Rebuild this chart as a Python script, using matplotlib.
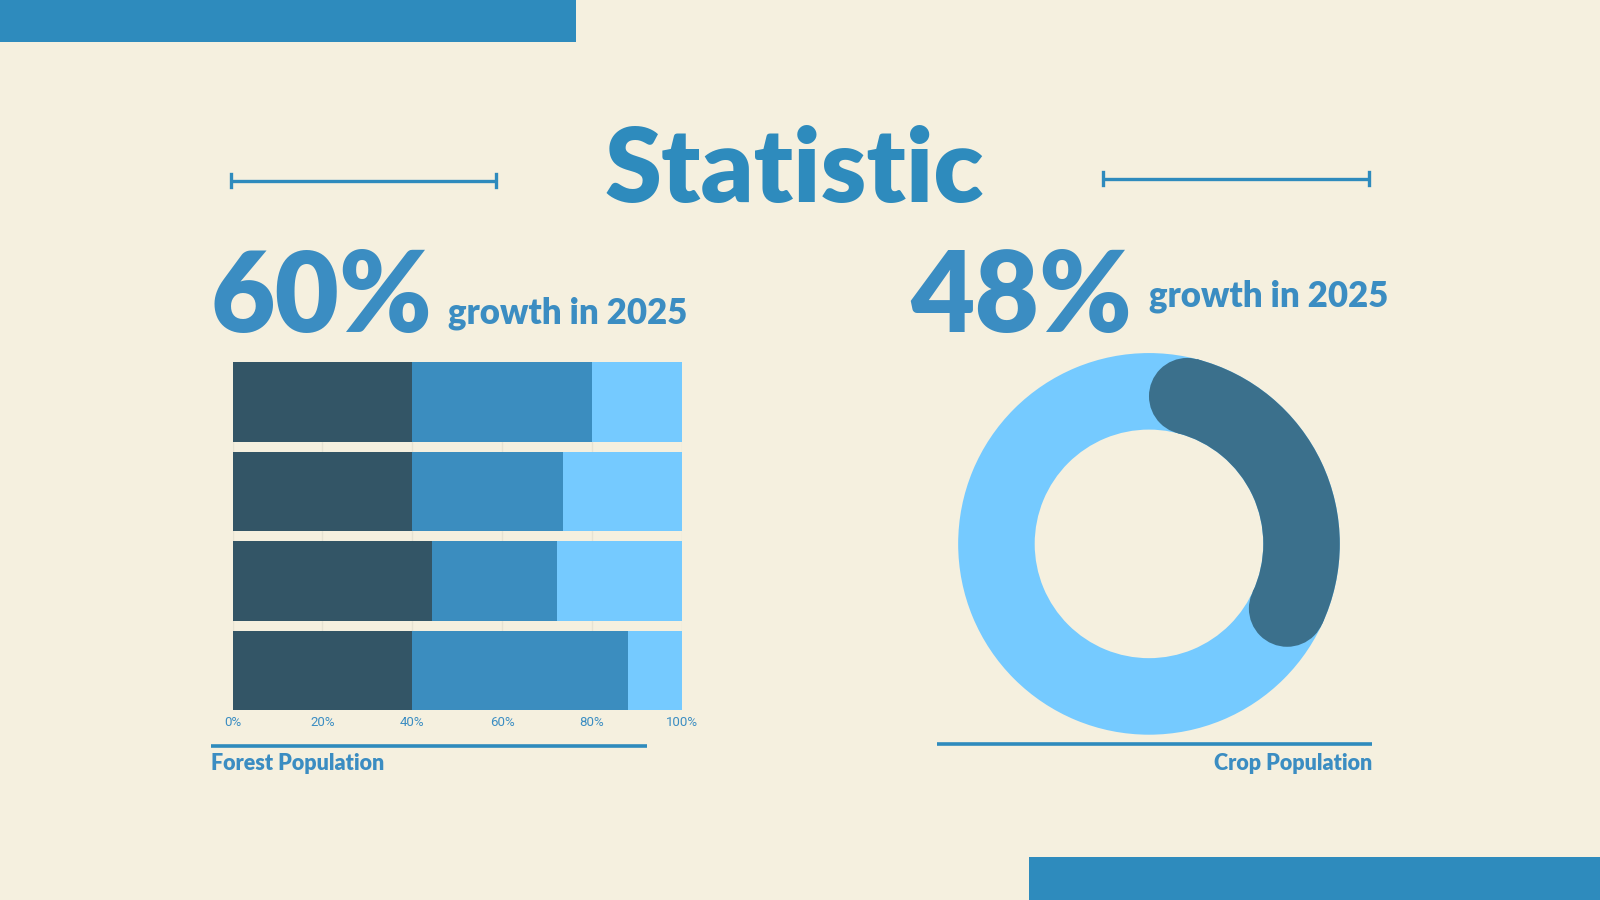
import matplotlib.pyplot as plt
from matplotlib.patches import Rectangle, Wedge, Circle
import numpy as np

# Forest Population: stacked shares per row (percent)
forest_rows = ['A', 'B', 'C', 'D']
forest_dark = [40, 40, 44.5, 40]
forest_mid = [40, 33.5, 27.8, 48]
forest_light = [20, 26.5, 27.7, 12]
x_ticks = [0, 20, 40, 60, 80, 100]
x_tick_labels = ['0%', '20%', '40%', '60%', '80%', '100%']

# Crop Population: share of the ring shown in the dark arc
crop_share = 36

BG = '#f5f0df'
BLUE = '#2e8bbd'
TXT = '#3b8dc2'
C_DARK = '#335566'
C_MID = '#3b8dbf'
C_LIGHT = '#75caff'
C_ARC = '#3b708c'

W, H = 1568, 882  # layout units
FONT = ['Lato', 'DejaVu Sans']

fig = plt.figure(figsize=(16, 9), dpi=100, facecolor=BG)

# overlay for decoration, coordinates in layout units (y down)
bg = fig.add_axes([0, 0, 1, 1])
bg.set_xlim(0, W)
bg.set_ylim(H, 0)
bg.axis('off')

bg.add_patch(Rectangle((0, 0), 564, 41, color=BLUE, lw=0))
bg.add_patch(Rectangle((1008, 840), W - 1008, 42, color=BLUE, lw=0))

# title and bracket lines
bg.text(778, 198, 'Statistic', ha='center', va='baseline', fontsize=74,
        fontweight='heavy', color=BLUE, family=FONT)
for x0, x1, y in [(226, 486, 177), (1081, 1342, 175)]:
    bg.plot([x0, x1], [y, y], color=BLUE, lw=2.4, solid_capstyle='butt')
    bg.plot([x0, x0], [y - 6, y + 6], color=BLUE, lw=2.4)
    bg.plot([x1, x1], [y - 6, y + 6], color=BLUE, lw=2.4)

# headline numbers
bg.text(206, 325, '60%', ha='left', va='baseline', fontsize=80,
        fontweight='heavy', color=TXT, family=FONT)
bg.text(439, 317, 'growth in 2025', ha='left', va='baseline', fontsize=25,
        fontweight='heavy', color=TXT, family=FONT)
bg.text(892, 325, '48%', ha='left', va='baseline', fontsize=80,
        fontweight='heavy', color=TXT, family=FONT)
bg.text(1126, 300, 'growth in 2025', ha='left', va='baseline', fontsize=25,
        fontweight='heavy', color=TXT, family=FONT)

# underlines and captions
bg.plot([207, 634], [731, 731], color=BLUE, lw=2.6, solid_capstyle='butt')
bg.plot([918, 1345], [729, 729], color=BLUE, lw=2.6, solid_capstyle='butt')
bg.text(207, 748, 'Forest Population', ha='left', va='center', fontsize=15.5,
        fontweight='heavy', color=TXT, family=FONT)
bg.text(1345, 748, 'Crop Population', ha='right', va='center', fontsize=15.5,
        fontweight='heavy', color=TXT, family=FONT)

# stacked bar chart
ax = fig.add_axes([228 / W, 1 - 696 / H, 440 / W, 341 / H])
ax.set_facecolor('none')
y = np.arange(len(forest_rows))
h = 0.89
ax.barh(y, forest_dark, height=h, color=C_DARK, zorder=2)
ax.barh(y, forest_mid, left=forest_dark, height=h, color=C_MID, zorder=2)
left2 = np.array(forest_dark) + np.array(forest_mid)
ax.barh(y, forest_light, left=left2, height=h, color=C_LIGHT, zorder=2)
ax.set_xlim(0, 100)
ax.set_ylim(len(forest_rows) - 1 + h / 2, -h / 2)
ax.set_xticks(x_ticks)
ax.set_xticklabels(x_tick_labels)
ax.set_yticks([])
ax.tick_params(axis='x', length=0, pad=4, labelsize=9.5, labelcolor=TXT)
for lab in ax.get_xticklabels():
    lab.set_family(['Roboto', 'DejaVu Sans'])
ax.grid(axis='x', color='#e6e3d3', lw=1, zorder=0)
for s in ax.spines.values():
    s.set_visible(False)

# donut chart
R = 187
cx, cy = 1126, 533
dax = fig.add_axes([(cx - R) / W, 1 - (cy + R) / H, 2 * R / W, 2 * R / H])
dax.set_facecolor('none')
ring = 75 / R
dax.pie([100], colors=[C_LIGHT], radius=1, startangle=90,
        wedgeprops=dict(width=ring, linewidth=0))
mid_r = 1 - ring / 2
cap_deg = np.degrees(np.arcsin((ring / 2) / mid_r))
th_s = cap_deg
th_e = crop_share * 3.6 - cap_deg
dax.add_patch(Wedge((0, 0), 1, 90 - th_e, 90 - th_s, width=ring,
                    color=C_ARC, lw=0))
for th in (th_s, th_e):
    a = np.radians(90 - th)
    dax.add_patch(Circle((mid_r * np.cos(a), mid_r * np.sin(a)), ring / 2,
                         color=C_ARC, lw=0))
dax.set_xlim(-1, 1)
dax.set_ylim(-1, 1)
dax.set_aspect('equal')
dax.axis('off')

fig.savefig('out.png', dpi=100, facecolor=BG)
